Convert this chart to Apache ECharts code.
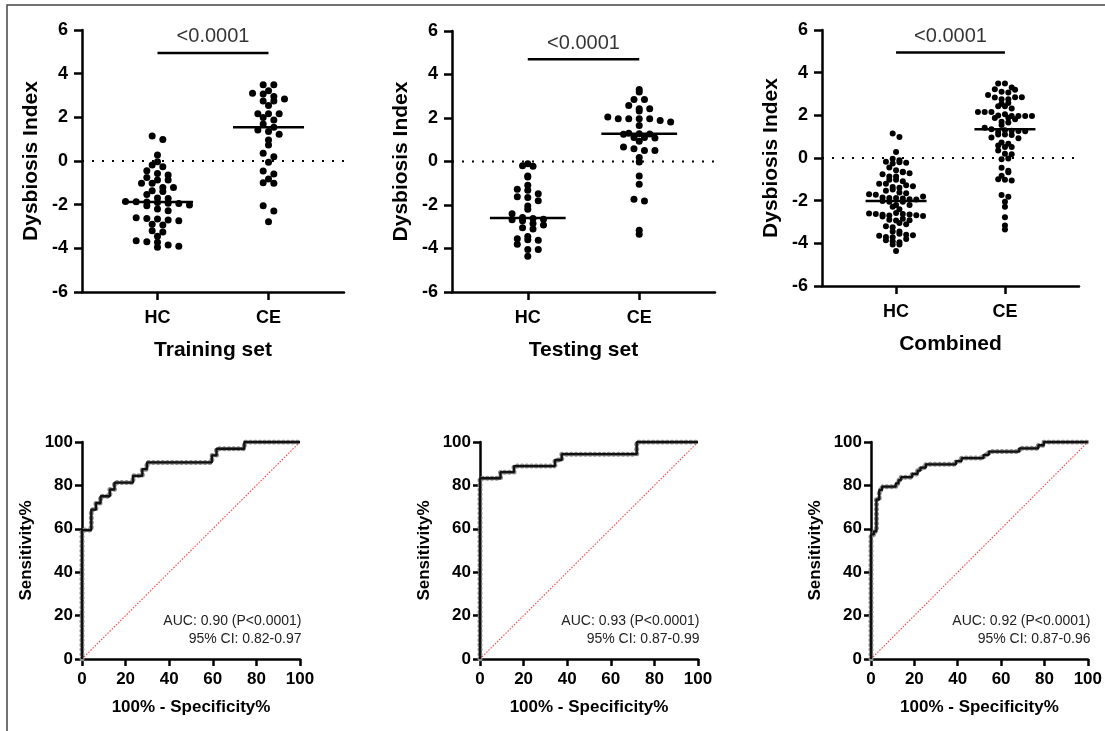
<!DOCTYPE html>
<html>
<head>
<meta charset="utf-8">
<script src="https://cdn.jsdelivr.net/npm/echarts@6/dist/echarts.min.js"></script>
<style>
html,body{margin:0;padding:0;background:#fff;}
#chart{width:1105px;height:731px;}
</style>
</head>
<body>
<div id="chart"></div>
<script>
// ---------------- DATA ----------------
const groupLabels = ['HC', 'CE'];
const panelTitles = ['Training set', 'Testing set', 'Combined'];
const pValueText = '<0.0001';
const yTicksTop = [-6, -4, -2, 0, 2, 4, 6];

const trainHC = [1.15, 0.99, 0.28, -0.03, -0.18, -0.26, -0.45, -0.57, -0.64, -0.76,
  -0.87, -0.87, -1.02, -1.02, -1.21, -1.21, -1.36, -1.40, -1.53, -1.70,
  -1.72, -1.85, -1.87, -1.88, -1.90, -1.93, -1.95, -2.02, -2.05, -2.20,
  -2.28, -2.60, -2.63, -2.66, -2.70, -2.74, -2.90, -2.93, -3.20, -3.25,
  -3.45, -3.65, -3.70, -3.72, -3.85, -3.90, -3.95];
const trainCE = [3.49, 3.49, 3.22, 3.10, 3.07, 2.95, 2.84, 2.75, 2.75, 2.54,
  2.16, 2.16, 2.16, 1.99, 1.88, 1.70, 1.55, 1.42, 1.35, 1.22,
  0.96, 0.73, 0.35, 0.20, -0.06, -0.46, -0.60, -0.83, -1.00, -1.02,
  -2.05, -2.29, -2.78];
const testHC = [-0.10, -0.20, -0.22, -0.67, -0.71, -1.09, -1.28, -1.32, -1.48, -1.62,
  -1.65, -1.80, -2.05, -2.20, -2.40, -2.58, -2.62, -2.65, -2.68, -2.72,
  -2.85, -2.92, -3.05, -3.10, -3.45, -3.55, -3.60, -3.62, -3.80, -4.05,
  -4.05, -4.36];
const testCE = [3.31, 3.20, 2.85, 2.85, 2.58, 2.43, 2.43, 2.32, 2.05, 1.97,
  1.97, 1.97, 1.97, 1.89, 1.82, 1.66, 1.30, 1.28, 1.27, 1.25,
  1.10, 1.10, 1.08, 0.93, 0.67, 0.59, 0.51, 0.51, 0.18, -0.02,
  -0.67, -1.05, -1.74, -1.82, -3.16, -3.35];
// the combined cohort is the training and testing cohorts together
const combHC = trainHC.concat(testHC);
const combCE = trainCE.concat(testCE);
const bracketY = [4.95, 4.7, 4.95];

// ROC curves: 100% - Specificity% (fpr) and Sensitivity% (tpr) at each rise
const rocTrainFpr = [0, 0, 4.26, 6.38, 8.51, 12.77, 14.89, 23.40, 27.66, 29.79, 59.57, 61.70, 74.47, 100];
const rocTrainTpr = [0, 59.4, 68.8, 71.9, 75.0, 78.1, 81.3, 84.4, 87.5, 90.6, 93.8, 96.9, 100, 100];
const rocTestFpr = [0, 0, 9.4, 15.6, 34.4, 37.5, 71.9, 100];
const rocTestTpr = [0, 83.3, 86.1, 88.9, 91.7, 94.4, 100, 100];
const rocCombFpr = [0, 0, 1.3, 2.5, 3.8, 5.1, 11.4, 12.7, 13.9, 19.0, 21.5, 22.8, 25.3, 39.2, 41.8, 51.9, 54.4, 68.4, 77.2, 79.7, 100];
const rocCombTpr = [0, 57.4, 58.8, 73.5, 77.9, 79.4, 80.9, 82.4, 83.8, 85.3, 86.8, 88.2, 89.7, 91.2, 92.6, 94.1, 95.6, 97.1, 98.5, 100, 100];
const aucLines = [
  ['AUC: 0.90 (P<0.0001)', '95% CI: 0.82-0.97'],
  ['AUC: 0.93 (P<0.0001)', '95% CI: 0.87-0.99'],
  ['AUC: 0.92 (P<0.0001)', '95% CI: 0.87-0.96']
];

// ---------------- LAYOUT / STYLE ----------------
const FONT = 'Arial, "Liberation Sans", Helvetica, sans-serif';
const topGrids = [
  {left: 82, top: 30, width: 262, height: 262},
  {left: 452, top: 31, width: 263, height: 261},
  {left: 822, top: 30, width: 257, height: 256}
];
const botGrids = [
  {left: 82, top: 442, width: 218, height: 217},
  {left: 480, top: 442, width: 218, height: 217},
  {left: 871, top: 442, width: 218, height: 217}
];
const swarmStyle = [
  {spacing: 0.096, bin: 0.27, size: 7, half: 0.32},
  {spacing: 0.094, bin: 0.28, size: 7, half: 0.34},
  {spacing: 0.062, bin: 0.26, size: 6, half: 0.28}
];
const XMIN = 0.32, XMAX = 2.68;

function median(a) {
  const s = a.slice().sort((x, y) => x - y);
  const n = s.length;
  return n % 2 ? s[(n - 1) / 2] : (s[n / 2 - 1] + s[n / 2]) / 2;
}
// GraphPad-like scatter layout: values in the same row are spread symmetrically
function swarm(values, center, spacing, bin) {
  const rows = {};
  values.forEach(v => {
    const k = Math.round(v / bin);
    (rows[k] = rows[k] || []).push(v);
  });
  const pts = [];
  Object.keys(rows).forEach(k => {
    const r = rows[k];
    const n = r.length;
    r.forEach((v, i) => pts.push([center + (i - (n - 1) / 2) * spacing, v]));
  });
  return pts;
}
function zip(a, b) { return a.map((v, i) => [v, b[i]]); }

const axisLineStyle = {color: '#000', width: 2.5};
const grids = [], xAxes = [], yAxes = [], series = [], graphics = [];

const groupsTop = [[trainHC, trainCE], [testHC, testCE], [combHC, combCE]];
groupsTop.forEach((grp, i) => {
  grids.push(topGrids[i]);
  xAxes.push({
    gridIndex: i, type: 'value', min: XMIN, max: XMAX,
    splitLine: {show: false},
    axisLine: {onZero: false, lineStyle: axisLineStyle},
    axisTick: {show: true, customValues: [1, 2], length: 8, lineStyle: axisLineStyle},
    axisLabel: {customValues: [1, 2], formatter: v => groupLabels[Math.round(v) - 1],
      fontSize: 18, fontWeight: 'bold', color: '#000', fontFamily: FONT, margin: 17},
    name: panelTitles[i], nameLocation: 'middle', nameGap: 48,
    nameTextStyle: {fontSize: 21, fontWeight: 'bold', color: '#000', fontFamily: FONT}
  });
  yAxes.push({
    gridIndex: i, type: 'value', min: -6, max: 6, interval: 2,
    splitLine: {show: false},
    axisLine: {show: true, onZero: false, lineStyle: axisLineStyle},
    axisTick: {show: true, length: 8, lineStyle: axisLineStyle},
    axisLabel: {fontSize: 18, fontWeight: 'bold', color: '#000', fontFamily: FONT, margin: 14,
      customValues: yTicksTop},
    name: 'Dysbiosis Index', nameLocation: 'middle', nameGap: 40,
    nameTextStyle: {fontSize: 21, fontWeight: 'bold', color: '#000', fontFamily: FONT}
  });
  const st = swarmStyle[i];
  // dotted zero line
  series.push({type: 'line', xAxisIndex: i, yAxisIndex: i, data: [[XMIN, 0], [XMAX, 0]],
    symbol: 'none', silent: true, lineStyle: {color: '#000', width: 2, type: [2, 8]}, z: 1});
  grp.forEach((vals, g) => {
    series.push({type: 'scatter', xAxisIndex: i, yAxisIndex: i,
      data: swarm(vals, g + 1, st.spacing, st.bin), symbolSize: st.size,
      itemStyle: {color: '#000', opacity: 1}, silent: true, z: 3});
    const m = median(vals);
    series.push({type: 'line', xAxisIndex: i, yAxisIndex: i,
      data: [[g + 1 - st.half, m], [g + 1 + st.half, m]], symbol: 'none', silent: true,
      lineStyle: {color: '#000', width: 2.5}, z: 4});
  });
  // significance bracket
  series.push({type: 'line', xAxisIndex: i, yAxisIndex: i,
    data: [[1, bracketY[i]], [2, bracketY[i]]], symbol: 'none', silent: true,
    lineStyle: {color: '#000', width: 2.5}});
  series.push({type: 'scatter', xAxisIndex: i, yAxisIndex: i,
    data: [[1.5, bracketY[i]]], symbolSize: 0, silent: true,
    label: {show: true, position: 'top', distance: 6, formatter: pValueText,
      fontSize: 20, color: '#000', fontFamily: FONT}});
});

const rocs = [[rocTrainFpr, rocTrainTpr], [rocTestFpr, rocTestTpr], [rocCombFpr, rocCombTpr]];
rocs.forEach((r, j) => {
  const i = j + 3;
  grids.push(botGrids[j]);
  xAxes.push({
    gridIndex: i, type: 'value', min: 0, max: 100, interval: 20,
    splitLine: {show: false},
    axisLine: {onZero: false, lineStyle: axisLineStyle},
    axisTick: {show: true, length: 7, lineStyle: axisLineStyle},
    axisLabel: {fontSize: 17, fontWeight: 'bold', color: '#000', fontFamily: FONT, margin: 12},
    name: '100% - Specificity%', nameLocation: 'middle', nameGap: 40,
    nameTextStyle: {fontSize: 17, fontWeight: 'bold', color: '#000', fontFamily: FONT}
  });
  yAxes.push({
    gridIndex: i, type: 'value', min: 0, max: 100, interval: 20,
    splitLine: {show: false},
    axisLine: {show: true, onZero: false, lineStyle: axisLineStyle},
    axisTick: {show: true, length: 7, lineStyle: axisLineStyle},
    axisLabel: {fontSize: 17, fontWeight: 'bold', color: '#000', fontFamily: FONT, margin: 9},
    name: 'Sensitivity%', nameLocation: 'middle', nameGap: 47,
    nameTextStyle: {fontSize: 17, fontWeight: 'bold', color: '#000', fontFamily: FONT}
  });
  series.push({type: 'line', xAxisIndex: i, yAxisIndex: i, data: [[0, 0], [100, 100]],
    symbol: 'none', silent: true, lineStyle: {color: '#ff4040', width: 1.1, type: [1.5, 1.5]}, z: 1});
  const pts = zip(r[0], r[1]);
  series.push({type: 'line', xAxisIndex: i, yAxisIndex: i, data: pts, step: 'end',
    symbol: 'none', silent: true, z: 2,
    lineStyle: {color: '#8c8c8c', width: 5, type: [0.1, 4.6], cap: 'round'}});
  series.push({type: 'line', xAxisIndex: i, yAxisIndex: i, data: pts, step: 'end',
    symbol: 'none', silent: true, z: 3,
    lineStyle: {color: '#111', width: 2.3}});
  const g = botGrids[j];
  const rx = g.left + g.width + 1.5;
  graphics.push({type: 'text', x: rx, y: 621, style: {text: aucLines[j][0], textAlign: 'right',
    textVerticalAlign: 'middle', font: '14px ' + FONT, fill: '#222'}});
  graphics.push({type: 'text', x: rx, y: 639, style: {text: aucLines[j][1], textAlign: 'right',
    textVerticalAlign: 'middle', font: '14px ' + FONT, fill: '#222'}});
});

graphics.push({type: 'rect', shape: {x: 7, y: 5, width: 1200, height: 800},
  style: {fill: 'none', stroke: '#444', lineWidth: 1.5}, silent: true});

const chart = echarts.init(document.getElementById('chart'), null, {renderer: 'canvas'});
chart.setOption({
  animation: false,
  backgroundColor: '#fff',
  grid: grids,
  xAxis: xAxes,
  yAxis: yAxes,
  series: series,
  graphic: graphics
});
</script>
</body>
</html>
